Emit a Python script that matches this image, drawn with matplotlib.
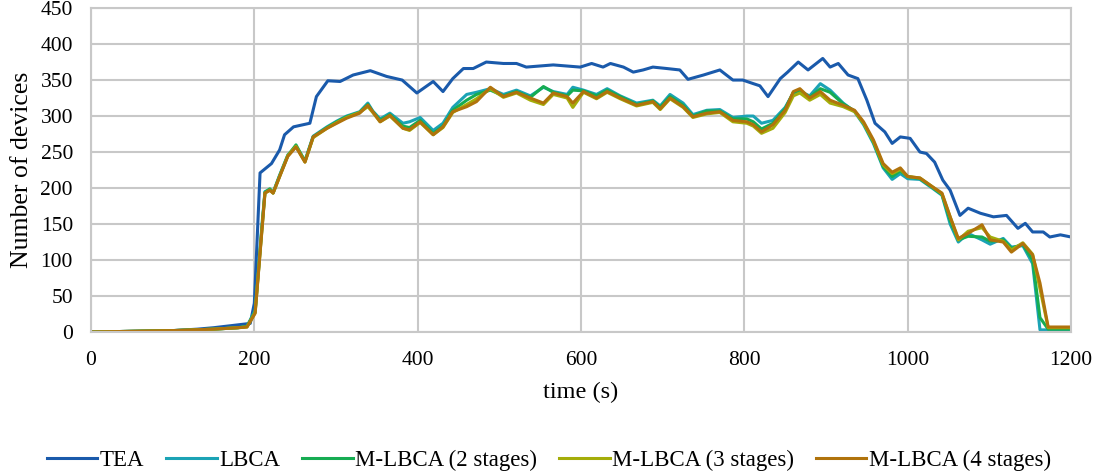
import matplotlib.pyplot as plt

# time stamps (s) shared by the four LBCA-type curves
t_lb = [0, 50, 100, 150, 180, 191, 201, 209, 213, 219, 223, 231, 241, 251, 262, 272,
        289, 301, 313, 329, 339, 345, 354, 366, 382, 390, 403, 419, 431, 443, 460, 472,
        489, 505, 521, 538, 554, 566, 583, 590, 603, 619, 632, 648, 668, 688, 697, 709,
        725, 737, 754, 770, 786, 803, 811, 821, 835, 850, 860, 868, 880, 893, 905, 921,
        935, 946, 958, 970, 981, 991, 1000, 1015, 1030, 1042, 1052, 1062, 1074, 1091,
        1101, 1117, 1127, 1141, 1153, 1162, 1172, 1185, 1200]

lbca = [0, 1, 2, 4, 6, 8, 30, 145, 195, 198, 194, 218, 246, 258, 238, 272,
        285, 293, 300, 306, 318, 307, 296, 304, 290, 292, 298, 280, 290, 312, 330, 333,
        338, 330, 336, 328, 340, 334, 330, 340, 336, 330, 338, 328, 318, 322, 314, 330,
        318, 302, 308, 309, 298, 300, 300, 290, 294, 312, 332, 334, 328, 345, 336, 318,
        306, 288, 262, 228, 212, 220, 213, 212, 200, 190, 150, 125, 137, 128,
        122, 130, 118, 120, 95, 3, 3, 3, 3]

mlbca2 = [0, 1, 2, 4, 6, 8, 28, 140, 194, 199, 193, 217, 245, 260, 237, 271,
          284, 292, 299, 305, 316, 306, 294, 302, 286, 284, 294, 276, 286, 308, 322, 330,
          336, 328, 334, 326, 341, 333, 328, 336, 335, 328, 336, 327, 316, 321, 312, 327,
          315, 300, 307, 307, 296, 296, 292, 282, 290, 310, 333, 336, 326, 338, 333, 317,
          307, 290, 264, 230, 216, 224, 216, 213, 201, 191, 155, 128, 133, 132,
          126, 128, 116, 122, 100, 20, 4, 4, 4]

mlbca3 = [0, 1, 2, 4, 6, 7, 27, 138, 193, 197, 193, 216, 245, 258, 236, 270,
          283, 291, 298, 305, 313, 305, 292, 300, 283, 280, 291, 274, 284, 305, 316, 324,
          338, 326, 332, 322, 316, 330, 325, 312, 333, 324, 333, 324, 314, 319, 309, 324,
          312, 298, 303, 305, 292, 290, 286, 276, 283, 305, 328, 332, 322, 330, 318, 313,
          306, 290, 265, 232, 220, 226, 216, 214, 202, 192, 160, 128, 140, 145,
          132, 126, 114, 124, 108, 60, 6, 6, 6]

mlbca4 = [0, 1, 2, 4, 6, 7, 26, 137, 193, 197, 193, 216, 244, 257, 236, 271,
          283, 290, 297, 304, 315, 306, 292, 301, 283, 281, 292, 274, 285, 306, 313, 320,
          340, 327, 333, 325, 318, 332, 327, 318, 334, 325, 334, 325, 315, 320, 310, 325,
          313, 299, 304, 306, 294, 292, 288, 278, 288, 308, 334, 338, 325, 334, 322, 315,
          308, 292, 267, 234, 222, 228, 216, 214, 202, 193, 160, 130, 137, 149,
          128, 125, 111, 123, 107, 68, 7, 7, 7]

t_tea = [0, 50, 100, 130, 150, 180, 195, 200, 207, 221, 231, 237, 248, 268, 276, 290,
         305, 321, 342, 362, 381, 399, 419, 431, 443, 456, 468, 484, 505, 521, 533,
         566, 599, 613, 627, 636, 652, 664, 676, 688, 705, 721, 731, 750, 770, 786,
         798, 811, 819, 829, 844, 853, 866, 878, 896, 905, 915, 927, 939, 950, 960,
         972, 981, 991, 1003, 1015, 1023, 1033, 1043, 1052, 1064, 1074, 1089, 1105,
         1121, 1135, 1144, 1153, 1166, 1174, 1187, 1200]
tea = [0, 1, 2, 4, 6, 10, 12, 40, 221, 234, 253, 274, 285, 290, 327, 349,
       348, 357, 363, 355, 350, 332, 348, 334, 352, 366, 366, 375, 373, 373, 368,
       371, 368, 373, 368, 373, 368, 361, 364, 368, 366, 364, 351, 357, 364, 350,
       350, 345, 342, 327, 352, 361, 375, 364, 380, 368, 373, 357, 352, 322, 290,
       278, 262, 271, 269, 250, 248, 236, 211, 197, 162, 172, 165, 160,
       162, 144, 151, 139, 139, 132, 135, 132]

names = ['TEA', 'LBCA', 'M-LBCA (2 stages)', 'M-LBCA (3 stages)', 'M-LBCA (4 stages)']
colors = ['#1a5aab', '#1ba3b5', '#16ac52', '#a4ad0a', '#b0730c']

plt.rcParams['font.family'] = ['Liberation Serif', 'DejaVu Serif']

fig = plt.figure(figsize=(11.07, 4.73), dpi=100)
ax = fig.add_axes([0.0822, 0.298, 0.8853, 0.685])

ax.plot(t_tea, tea, color=colors[0], lw=2.2, label=names[0])
ax.plot(t_lb, lbca, color=colors[1], lw=2.2, label=names[1])
ax.plot(t_lb, mlbca2, color=colors[2], lw=2.2, label=names[2])
ax.plot(t_lb, mlbca3, color=colors[3], lw=2.2, label=names[3])
ax.plot(t_lb, mlbca4, color=colors[4], lw=2.2, label=names[4])

ax.set_xlim(0, 1200)
ax.set_ylim(0, 450)
ax.set_xticks(range(0, 1201, 200))
ax.set_yticks(range(0, 451, 50))
ax.grid(True, color='#c8c8c8', lw=1.5)
ax.set_axisbelow(True)
for s in ax.spines.values():
    s.set_color('#c8c8c8')
    s.set_linewidth(1.5)
ax.tick_params(length=0, labelsize=15.5)
ax.tick_params(axis='x', pad=14)
ax.tick_params(axis='y', pad=13)
ax.set_xlabel('time (s)', fontsize=17.5, labelpad=8)
ax.set_ylabel('Number of devices', fontsize=18.5, labelpad=5)

fig.legend(loc='center', bbox_to_anchor=(0.496, 0.0275), ncol=5, frameon=False,
           fontsize=16.5, handlelength=2.2, columnspacing=0.95, handletextpad=0.12)

fig.savefig('out.png', dpi=100)
